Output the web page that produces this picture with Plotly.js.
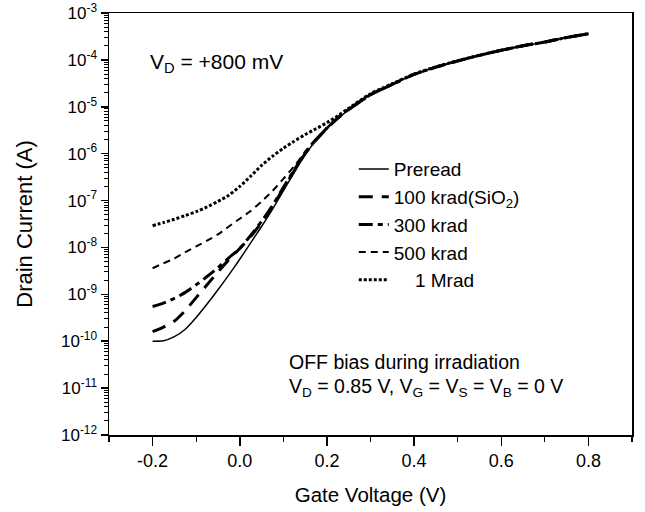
<!DOCTYPE html>
<html>
<head>
<meta charset="utf-8">
<script src="https://cdn.plot.ly/plotly-3.0.1.min.js"></script>
<style>html,body{margin:0;padding:0;background:#fff;}#chart{width:645px;height:512px;}</style>
</head>
<body>
<div id="chart"></div>
<script>
const gateV = [-0.2,-0.175,-0.15,-0.125,-0.1,-0.075,-0.05,-0.025,0,0.025,0.05,0.075,0.1,0.125,0.15,0.175,0.2,0.225,0.25,0.3,0.35,0.4,0.45,0.5,0.55,0.6,0.65,0.7,0.75,0.8];
const preread = [1.0e-10,1.02e-10,1.25e-10,1.8e-10,3.2e-10,6.2e-10,1.25e-9,2.6e-9,5.6e-9,1.25e-8,2.8e-8,6.5e-8,1.6e-7,4.0e-7,9.5e-7,1.9e-6,3.4e-6,5.6e-6,8.6e-6,1.8e-5,3.0e-5,4.9e-5,7.0e-5,9.5e-5,1.25e-4,1.6e-4,2.0e-4,2.4e-4,3.0e-4,3.6e-4];
const krad100 = [1.6e-10,2.0e-10,2.7e-10,4.5e-10,8.5e-10,1.6e-9,3.0e-9,5.5e-9,9.5e-9,1.7e-8,3.4e-8,7.5e-8,1.8e-7,4.3e-7,1.0e-6,1.95e-6,3.45e-6,5.7e-6,8.7e-6,1.8e-5,3.0e-5,4.9e-5,7.0e-5,9.5e-5,1.25e-4,1.6e-4,2.0e-4,2.4e-4,3.0e-4,3.6e-4];
const krad300 = [5.5e-10,6.5e-10,8.2e-10,1.1e-9,1.6e-9,2.4e-9,3.7e-9,6.0e-9,9.5e-9,1.8e-8,3.6e-8,7.8e-8,1.9e-7,4.5e-7,1.05e-6,2.0e-6,3.5e-6,5.8e-6,8.8e-6,1.8e-5,3.0e-5,4.9e-5,7.0e-5,9.5e-5,1.25e-4,1.6e-4,2.0e-4,2.4e-4,3.0e-4,3.6e-4];
const krad500 = [3.6e-9,4.6e-9,5.8e-9,7.9e-9,1.05e-8,1.4e-8,1.9e-8,2.8e-8,4.1e-8,6.0e-8,9.5e-8,1.6e-7,2.9e-7,5.4e-7,1.1e-6,2.05e-6,3.6e-6,5.9e-6,9.0e-6,1.85e-5,3.05e-5,4.9e-5,7.0e-5,9.5e-5,1.25e-4,1.6e-4,2.0e-4,2.4e-4,3.0e-4,3.6e-4];
const mrad1 = [2.9e-8,3.4e-8,4.0e-8,4.8e-8,5.8e-8,7.3e-8,9.6e-8,1.3e-7,2.0e-7,3.3e-7,5.6e-7,8.8e-7,1.3e-6,1.85e-6,2.55e-6,3.4e-6,4.6e-6,6.4e-6,9.3e-6,1.9e-5,3.1e-5,5.0e-5,7.1e-5,9.6e-5,1.26e-4,1.6e-4,2.0e-4,2.4e-4,3.0e-4,3.6e-4];
const seriesNames = ['Preread','100 krad(SiO<sub>2</sub>)','300 krad','500 krad','\u00a0\u00a0\u00a0 1 Mrad'];
const yTickVals = [1e-12,1e-11,1e-10,1e-9,1e-8,1e-7,1e-6,1e-5,1e-4,1e-3];
const yTickText = ['10<sup>-12</sup>','10<sup>-11</sup>','10<sup>-10</sup>','10<sup>-9</sup>','10<sup>-8</sup>','10<sup>-7</sup>','10<sup>-6</sup>','10<sup>-5</sup>','10<sup>-4</sup>','10<sup>-3</sup>'];
const xTickVals = [-0.2,0.0,0.2,0.4,0.6,0.8];
const xTickText = ['-0.2','0.0','0.2','0.4','0.6','0.8'];

const styles = [
  {width:1.5, dash:'solid'},
  {width:3, dash:'14px,9px'},
  {width:3, dash:'14px,5px,5px,5px'},
  {width:2, dash:'7px,5px'},
  {width:3, dash:'3px,2px'}
];
const ys = [preread,krad100,krad300,krad500,mrad1];
const traces = ys.map((y,i)=>({
  x: gateV, y: y, name: seriesNames[i], type:'scatter', mode:'lines', legendgroup:'g'+i,
  line:{color:'#000', width:styles[i].width, dash:styles[i].dash, shape:'spline', smoothing:0.6}
}));

const font = 'Liberation Sans, Arial, sans-serif';
const layout = {
  width:645, height:512,
  margin:{l:109, r:13, t:13, b:77},
  paper_bgcolor:'#fff', plot_bgcolor:'#fff',
  font:{family:font, color:'#000', size:17},
  showlegend:true,
  legend:{x:0.468, y:0.675, xanchor:'left', yanchor:'top', bgcolor:'rgba(0,0,0,0)', font:{size:19, family:font}, tracegroupgap:0},
  xaxis:{
    range:[-0.3,0.9], tickvals:xTickVals, ticktext:xTickText,
    ticks:'outside', ticklen:9, tickwidth:1.5, tickcolor:'#000',
    minor:{dtick:0.1, tick0:-0.3, ticks:'outside', ticklen:5, tickwidth:1.2, tickcolor:'#000'},
    showline:true, linecolor:'#000', linewidth:1.5, mirror:true,
    showgrid:false, zeroline:false,
    tickfont:{size:18, family:font},
    title:{text:'Gate Voltage (V)', font:{size:20.5, family:font}, standoff:17}
  },
  yaxis:{
    type:'log', range:[-12,-3], tickvals:yTickVals, ticktext:yTickText,
    ticks:'outside', ticklen:7, tickwidth:1.5, tickcolor:'#000',
    minor:{dtick:'D1', ticks:'outside', ticklen:4, tickwidth:1, tickcolor:'#000'},
    showline:true, linecolor:'#000', linewidth:1.5, mirror:true,
    showgrid:false, zeroline:false,
    tickfont:{size:17, family:font},
    title:{text:'Drain Current (A)', font:{size:22, family:font}, standoff:22}
  },
  annotations:[
    {xref:'paper', yref:'paper', x:0.075, y:0.882, xanchor:'left', yanchor:'middle', showarrow:false,
     text:'V<sub>D</sub> = +800 mV', font:{size:21, family:font}},
    {xref:'paper', yref:'paper', x:0.34, y:0.172, xanchor:'left', yanchor:'middle', showarrow:false,
     text:'OFF bias during irradiation', font:{size:19.5, family:font}},
    {xref:'paper', yref:'paper', x:0.34, y:0.113, xanchor:'left', yanchor:'middle', showarrow:false,
     text:'V<sub>D</sub> = 0.85 V, V<sub>G</sub> = V<sub>S</sub> = V<sub>B</sub> = 0 V', font:{size:19.5, family:font}}
  ]
};
Plotly.newPlot('chart', traces, layout, {displayModeBar:false, staticPlot:true});
</script>
</body>
</html>
